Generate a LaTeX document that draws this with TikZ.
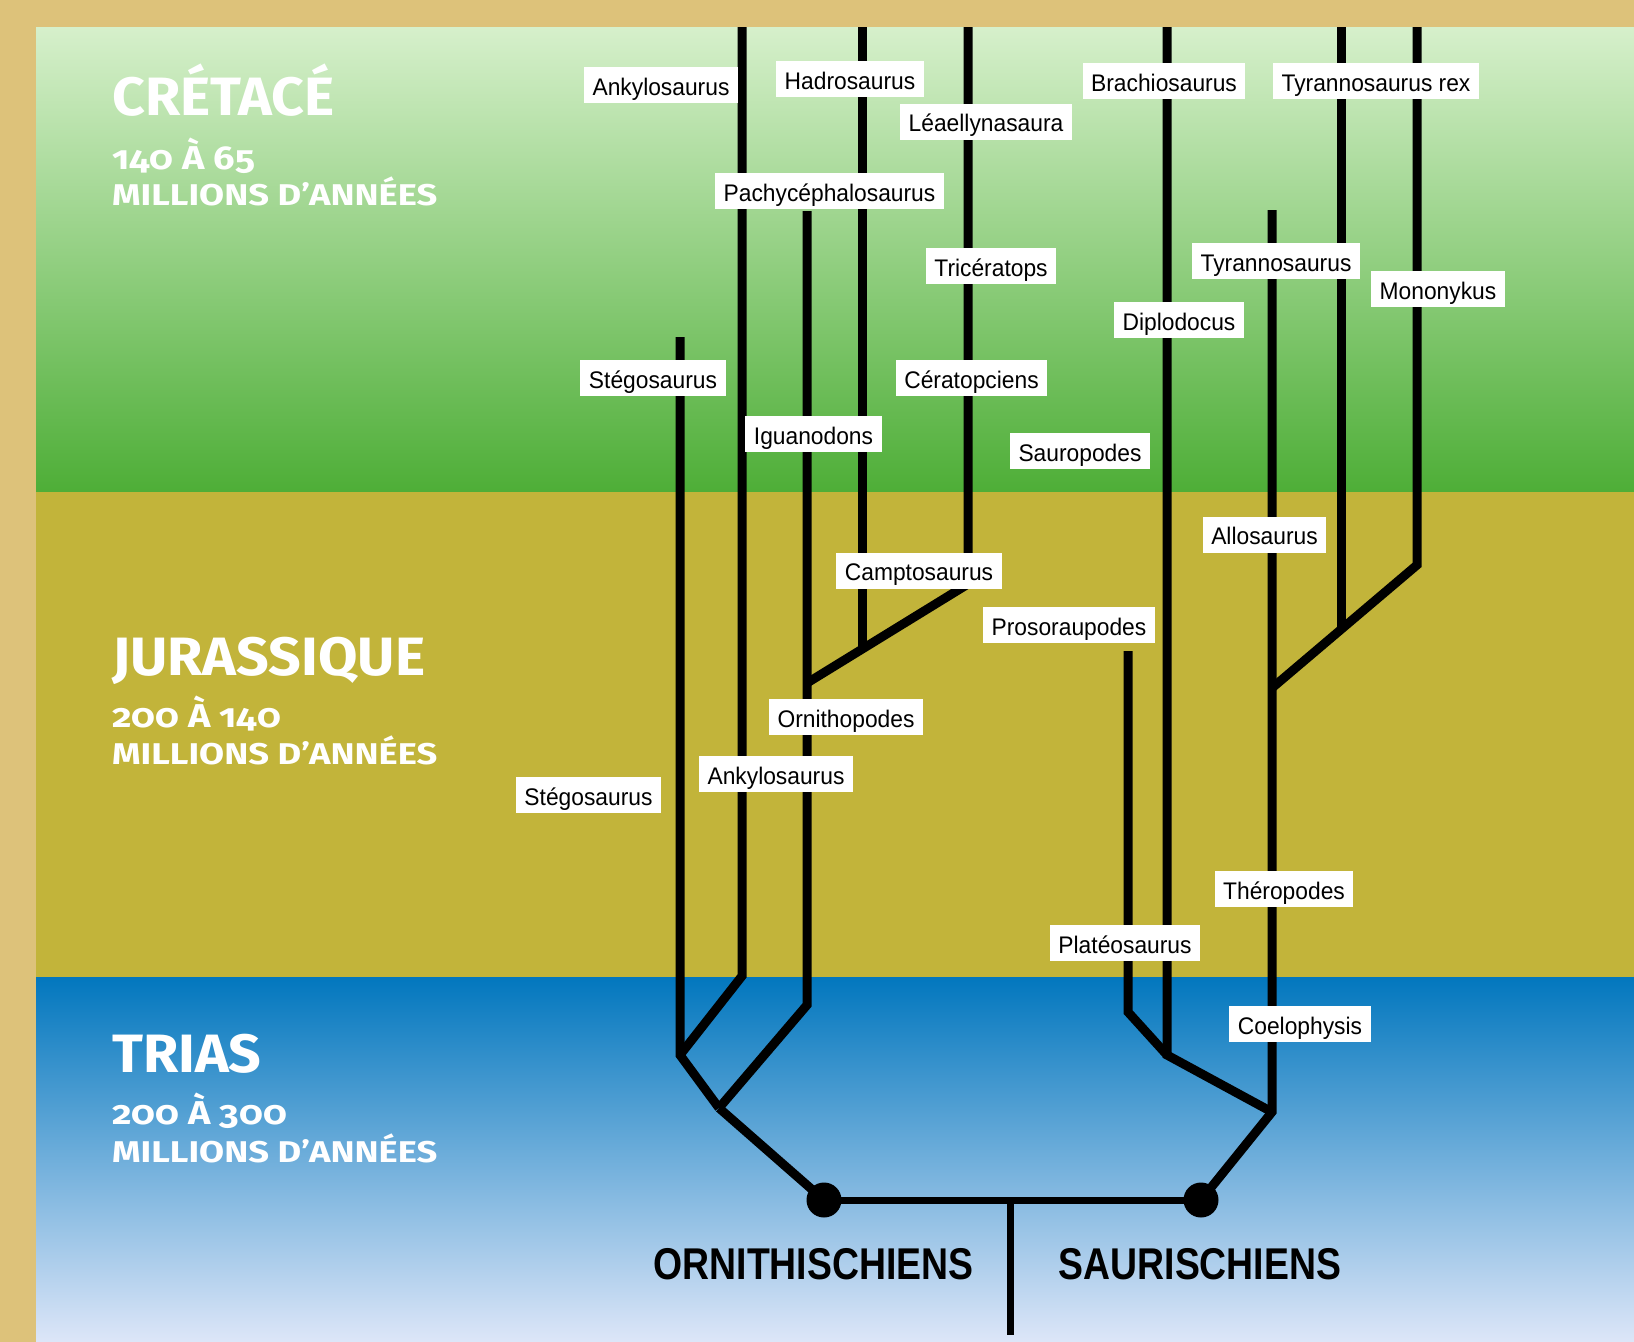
\documentclass[tikz,border=0pt]{standalone}
\usepackage{fontspec}
\setmainfont{Liberation Sans}
\newfontfamily\labfont{Liberation Sans}[FakeStretch=0.95]
\newfontfamily\headfontA{Fira Sans}[Numbers=OldStyle, FakeStretch=1.06]
\newfontfamily\headfontB{Fira Sans}[Numbers=OldStyle, FakeStretch=1.15]
\newfontfamily\headfontC{Fira Sans}[Numbers=OldStyle, FakeStretch=1.21]
\newfontfamily\cladefont{Liberation Sans}[FakeStretch=0.84]
\definecolor{tanbg}{HTML}{DDC27A}
\definecolor{greentop}{HTML}{D6F0CB}
\definecolor{greenbot}{HTML}{4EAE37}
\definecolor{olivebg}{HTML}{C2B43A}
\definecolor{bluetop}{HTML}{0277BE}
\definecolor{bluebot}{HTML}{DDE6F8}
\begin{document}
\begin{tikzpicture}[x=1pt,y=-1pt,
  lab/.style={fill=white, font=\labfont\fontsize{24}{24}\selectfont,
    text height=28pt, text depth=8pt, inner xsep=8.5pt, inner ysep=0pt, anchor=center},
  branch/.style={line width=9pt, draw=black},
  rootline/.style={line width=7pt, draw=black},
  period/.style={text=white, anchor=base west, inner sep=0pt,
    font=\headfontA\bfseries\fontsize{54}{54}\selectfont},
  numline/.style={text=white, anchor=base west, inner sep=0pt,
    font=\headfontB\bfseries\fontsize{33}{33}\selectfont},
  millions/.style={text=white, anchor=base west, inner sep=0pt,
    font=\headfontC\bfseries\fontsize{30}{30}\selectfont},
  clade/.style={text=black, anchor=base, inner sep=0pt,
    font=\cladefont\bfseries\fontsize{44.5}{44.5}\selectfont},
  dot/.style={fill=black}
]
\useasboundingbox (0,0) rectangle (1634,1342);
% background
\fill[tanbg] (0,0) rectangle (1634,1342);
\shade[top color=greentop, bottom color=greenbot] (36,27) rectangle (1634,492);
\fill[olivebg] (36,492) rectangle (1634,977);
\shade[top color=bluetop, bottom color=bluebot] (36,977) rectangle (1634,1342);

% coordinates
\coordinate (stTop) at (680,337);
\coordinate (stBase) at (680,1055);
\coordinate (anTop) at (742,27);
\coordinate (anBend) at (742,976);
\coordinate (orTop) at (807,211);
\coordinate (orJ) at (807,683);
\coordinate (orBend) at (807,1005);
\coordinate (rL) at (719,1108);
\coordinate (haTop) at (862,27);
\coordinate (haJ) at (862,649);
\coordinate (ceTop) at (968,27);
\coordinate (ceJ) at (968,584);
\coordinate (prTop) at (1128,651);
\coordinate (prBend) at (1128,1012);
\coordinate (brTop) at (1167,27);
\coordinate (saJ) at (1167,1055);
\coordinate (thTop) at (1272,210);
\coordinate (thJ) at (1272,688);
\coordinate (rR) at (1272,1112);
\coordinate (trTop) at (1341,27);
\coordinate (trJ) at (1341,629);
\coordinate (moTop) at (1417,27);
\coordinate (moJ) at (1417,565);
\coordinate (dotL) at (824,1200);
\coordinate (dotR) at (1201,1200);
\coordinate (mid) at (1010,1200);
\coordinate (midEnd) at (1010,1335);

% branches
\draw[branch] (stTop) -- (stBase) -- (rL);
\draw[branch] (anTop) -- (anBend) -- (stBase);
\draw[branch] (orTop) -- (orBend) -- (rL);
\draw[branch] (haTop) -- (haJ);
\draw[branch] (ceTop) -- (ceJ) -- (orJ);
\draw[branch] (rL) -- (dotL);
\draw[branch] (prTop) -- (prBend) -- (saJ);
\draw[branch] (brTop) -- (saJ) -- (rR);
\draw[branch] (thTop) -- (rR) -- (dotR);
\draw[branch] (thJ) -- (moJ) -- (moTop);
\draw[branch] (trTop) -- (trJ);
\draw[rootline] (dotL) -- (dotR);
\draw[rootline] (mid) -- (midEnd);
\fill[dot] (dotL) circle[radius=17.5pt];
\fill[dot] (dotR) circle[radius=17.5pt];

% labels
\node[lab] (l1) at (661,85) {Ankylosaurus};
\node[lab] (l2) at (850,79) {Hadrosaurus};
\node[lab] (l3) at (986,121.5) {Léaellynasaura};
\node[lab] (l4) at (829.5,191) {Pachycéphalosaurus};
\node[lab] (l5) at (991,266) {Tricératops};
\node[lab] (l6) at (1164,81) {Brachiosaurus};
\node[lab] (l7) at (1376,81) {Tyrannosaurus rex};
\node[lab] (l8) at (1276,261) {Tyrannosaurus};
\node[lab] (l9) at (1438,289) {Mononykus};
\node[lab] (l10) at (1179,320) {Diplodocus};
\node[lab] (l11) at (653,378) {Stégosaurus};
\node[lab] (l12) at (971.5,378) {Cératopciens};
\node[lab] (l13) at (813.5,434) {Iguanodons};
\node[lab] (l14) at (1080,451) {Sauropodes};
\node[lab] (l15) at (1264.5,534.5) {Allosaurus};
\node[lab] (l16) at (919,570.5) {Camptosaurus};
\node[lab] (l17) at (1069,625) {Prosoraupodes};
\node[lab] (l18) at (846,717) {Ornithopodes};
\node[lab] (l19) at (776,774) {Ankylosaurus};
\node[lab] (l20) at (588.5,795) {Stégosaurus};
\node[lab] (l21) at (1284,889) {Théropodes};
\node[lab] (l22) at (1125,943) {Platéosaurus};
\node[lab] (l23) at (1300,1024) {Coelophysis};

% periods
\node[period] (p1) at (112,115) {CRÉTACÉ};
\node[numline] (p1a) at (112,169) {140 À 65};
\node[millions] (p1b) at (112,205) {MILLIONS D’ANNÉES};
\node[period] (p2) at (112,675) {JURASSIQUE};
\node[numline] (p2a) at (112,727) {200 À 140};
\node[millions] (p2b) at (112,764) {MILLIONS D’ANNÉES};
\node[period] (p3) at (112,1072) {TRIAS};
\node[numline] (p3a) at (112,1124) {200 À 300};
\node[millions] (p3b) at (112,1162) {MILLIONS D’ANNÉES};

% clades
\node[clade] (c1) at (813.5,1279) {ORNITHISCHIENS};
\node[clade] (c2) at (1200,1279) {SAURISCHIENS};
\end{tikzpicture}
\end{document}
